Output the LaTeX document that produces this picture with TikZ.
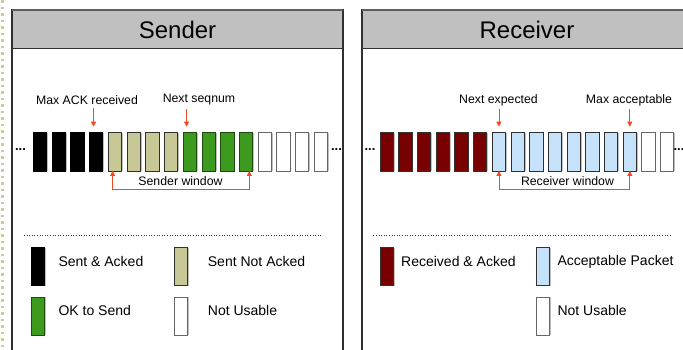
\documentclass[tikz,border=0pt]{standalone}
\usepackage{fontspec}
\setmainfont{Liberation Sans}
\usetikzlibrary{arrows.meta,shadows}
\definecolor{hdrgray}{HTML}{C0C0C0}
\definecolor{hdrtop}{HTML}{5E5E5E}
\definecolor{frame}{HTML}{303030}
\definecolor{khaki}{HTML}{C8C796}
\definecolor{okgreen}{HTML}{3C9A1E}
\definecolor{okedge}{HTML}{1E4A10}
\definecolor{darkred}{HTML}{780000}
\definecolor{lightblue}{HTML}{C6E2FA}
\definecolor{marker}{HTML}{F24A1E}
\definecolor{strip}{HTML}{CFCB92}
\tikzset{
  panelhead/.style={fill=hdrgray},
  slot/.style={draw=frame, line width=0.8pt, minimum width=13.3pt, minimum height=38.3pt,
               inner sep=0pt, outer sep=0pt,
               general shadow={fill=black!25, shadow xshift=1.3pt, shadow yshift=0pt}},
  acked/.style={slot, fill=black, draw=black},
  pending/.style={slot, fill=khaki},
  oksend/.style={slot, fill=okgreen, draw=okedge},
  unusable/.style={slot, fill=white, draw=black!60},
  rcvd/.style={slot, fill=darkred, draw=black!80},
  accept/.style={slot, fill=lightblue},
  ptr/.style={draw=marker, line width=0.8pt, -{Triangle[width=5pt,length=5pt]}},
  span/.style={draw=marker, line width=0.8pt, {Triangle[width=5pt,length=5pt]}-{Triangle[width=5pt,length=5pt]}},
  title/.style={font=\fontsize{24}{28}\selectfont},
  small/.style={font=\fontsize{12.3}{14}\selectfont, inner sep=0pt},
  legend/.style={font=\fontsize{14}{16}\selectfont, inner sep=0pt, anchor=west},
  dots/.style={font=\fontsize{13}{14}\selectfont\bfseries, inner sep=0pt},
}
\begin{document}
\begin{tikzpicture}[x=1pt, y=-1pt]
\useasboundingbox (0,0) rectangle (683,349);
\clip (0,0) rectangle (683,349);

% margin strip
\draw[strip, line width=3pt, dash pattern=on 2.5pt off 4pt] (2,0) -- (2,349);

% ---------- panels ----------
\foreach \l/\r in {12/343, 362/693}{
  \fill[panelhead] (\l,10) rectangle (\r,48);
  \draw[frame, line width=1.2pt] (\l,360) -- (\l,10) -- (\r,10) -- (\r,360);
  \draw[hdrtop, line width=2pt] (\l,10) -- (\r,10);
  \draw[frame, line width=1pt] (\l,48) -- (\r,48);
}
\node[title] (sendertitle) at (177.5,30) {Sender};
\node[title] (receivertitle) at (527,30) {Receiver};

% ---------- sender sequence ----------
\foreach \i in {1,...,16}{
  \pgfmathsetmacro{\cx}{40+18.73*(\i-1)}
  \ifnum\i<5 \def\kind{acked}\else
   \ifnum\i<9 \def\kind{pending}\else
    \ifnum\i<13 \def\kind{oksend}\else \def\kind{unusable}\fi\fi\fi
  \node[\kind] (s\i) at (\cx,151.8) {};
}
\node[dots] (sdotl) at (20.5,149.5) {...};
\node[dots] (sdotr) at (336.5,149.5) {...};

\node[small] (maxack) at (87,100) {Max ACK received};
\node[small] (nextseq) at (199,100) {Next seqnum};
\draw[ptr] ([xshift=-2.7pt]maxack.south -| s4.north) ++(0,3.5) -- ([xshift=-2.7pt,yshift=6pt]s4.north);
\draw[ptr] ([xshift=-3.3pt]nextseq.south -| s9.north) ++(0,3.5) -- ([xshift=-3.3pt,yshift=6pt]s9.north);

\draw[span] ([xshift=-2.3pt]s5.south) -- ++(0,18.3) -| ([xshift=3.3pt]s12.south);
\node[small] (swin) at (180.5,181.5) {Sender window};

% ---------- receiver sequence ----------
\foreach \i in {1,...,16}{
  \pgfmathsetmacro{\cx}{386.7+18.7*(\i-1)}
  \ifnum\i<7 \def\kind{rcvd}\else
   \ifnum\i<15 \def\kind{accept}\else \def\kind{unusable}\fi\fi
  \node[\kind] (r\i) at (\cx,151.8) {};
}
\node[dots] (rdotl) at (370,149.5) {...};
\node[dots] (rdotr) at (679,149.5) {...};

\node[small] (nextexp) at (498.5,100) {Next expected};
\node[small] (maxacc) at (629,100) {Max acceptable};
\draw[ptr] (nextexp.south -| r7.north) ++(0,3.5) -- ([yshift=6pt]r7.north);
\draw[ptr] (maxacc.south -| r14.north) ++(0,3.5) -- ([yshift=6pt]r14.north);

\draw[span] (r7.south) -- ++(0,18.3) -| (r14.south);
\node[small] (rwin) at (567.5,181.5) {Receiver window};

% ---------- separators ----------
\draw[black!80, line width=0.6pt, dotted] (24,235) -- (321.7,235);
\draw[black!80, line width=0.6pt, dotted] (373.3,235) -- (671.7,235);

% ---------- sender legend ----------
\node[acked, minimum height=38pt] (ksa) at (37.7,266.7) {};
\node[pending, minimum height=38pt] (ksn) at (181,266.7) {};
\node[oksend, minimum height=38pt] (kok) at (37.7,316.2) {};
\node[unusable, minimum height=38pt] (knu) at (181,316.2) {};
\node[legend] (tsa) at (58.3,261.7) {Sent \& Acked};
\node[legend] (tsn) at (207.7,261.7) {Sent Not Acked};
\node[legend] (tok) at (58.3,310.7) {OK to Send};
\node[legend] (tnu) at (207.7,310.7) {Not Usable};

% ---------- receiver legend ----------
\node[rcvd, minimum height=38pt] (kra) at (386.7,266.7) {};
\node[accept, minimum height=38pt] (kap) at (542.7,266.7) {};
\node[unusable, minimum height=38pt] (krnu) at (542.7,316.2) {};
\node[legend] (tra) at (401,261.7) {Received \& Acked};
\node[legend] (tap) at (557.3,261.7) {Acceptable Packet};
\node[legend] (trnu) at (557.3,310.7) {Not Usable};
\end{tikzpicture}
\end{document}
